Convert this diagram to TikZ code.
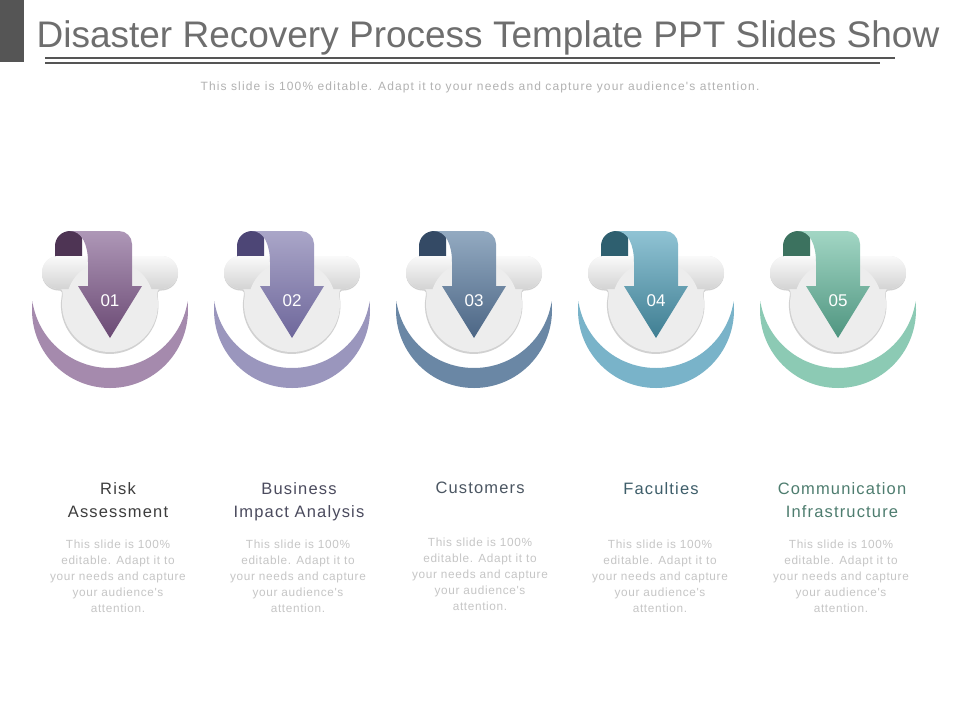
\documentclass[tikz,border=0pt]{standalone}
\usepackage{fontspec}
\setmainfont{Liberation Sans}
\newfontfamily\subfont[LetterSpace=9.5]{Liberation Sans}
\newfontfamily\descfont[LetterSpace=5.5]{Liberation Sans}
\newfontfamily\headfont[LetterSpace=7]{Liberation Sans}
\definecolor{titlegray}{HTML}{6E6E6E}
\definecolor{subgray}{HTML}{B2B2B2}
\definecolor{descgray}{HTML}{C6C6C6}
\definecolor{barbox}{HTML}{555555}
\definecolor{fA}{HTML}{4E3454}\definecolor{tA}{HTML}{AE97B7}\definecolor{bA}{HTML}{6B4A74}\definecolor{cA}{HTML}{A58AAD}\definecolor{hA}{HTML}{3D3D3D}
\definecolor{fB}{HTML}{4D4676}\definecolor{tB}{HTML}{AAA6C8}\definecolor{bB}{HTML}{6E679B}\definecolor{cB}{HTML}{9A96BD}\definecolor{hB}{HTML}{4B4B5E}
\definecolor{fC}{HTML}{344A65}\definecolor{tC}{HTML}{93AAC1}\definecolor{bC}{HTML}{4C6685}\definecolor{cC}{HTML}{6A87A5}\definecolor{hC}{HTML}{4B5662}
\definecolor{fD}{HTML}{2E5F6F}\definecolor{tD}{HTML}{90C3D4}\definecolor{bD}{HTML}{3F7E92}\definecolor{cD}{HTML}{79B3C9}\definecolor{hD}{HTML}{3E5E6A}
\definecolor{fE}{HTML}{3C725F}\definecolor{tE}{HTML}{A2D6C4}\definecolor{bE}{HTML}{4F9580}\definecolor{cE}{HTML}{8CCAB4}\definecolor{hE}{HTML}{4E7D6F}
\tikzset{
  numtext/.style={text=white,font=\fontsize{17}{20}\selectfont,inner sep=0pt},
  headtext/.style={font=\headfont\fontsize{16.5}{23}\selectfont,align=center,inner sep=0pt,anchor=north},
  desctext/.style={text=descgray,font=\descfont\fontsize{11.8}{16}\selectfont,align=center,inner sep=0pt,anchor=north},
}
\newcommand\dricon[7]{%
\begin{scope}[shift={(#1,0)}]
  \begin{scope}
    \clip (-90,301.7) rectangle (90,400);
    \fill[#5,even odd rule] (0,310) circle[radius=78] (0,289.5) circle[radius=78.5];
  \end{scope}
  \fill[#2] (-55,275) -- (-55,246) arc[start angle=180,end angle=270,radius=15] -- (-28,231) -- (-28,275) -- cycle;
  \fill[black!18] (-51.5,257.5) -- (51.5,257.5) arc[start angle=-90,end angle=90,radius=16.5]
     -- (50,290.5) .. controls (47.5,290.5) and (47.8,293) .. (47.8,297)
     arc[start angle=-9.6,end angle=189.6,radius=48.8]
     .. controls (-47.8,293) and (-47.5,290.5) .. (-50,290.5) -- (-51.5,290.5)
     arc[start angle=90,end angle=270,radius=16.5] -- cycle;
  \fill[black!7] (-51.5,256) -- (51.5,256) arc[start angle=-90,end angle=90,radius=16.5]
     -- (50,289) .. controls (47.5,289) and (47.3,292) .. (47.3,296)
     arc[start angle=-9.6,end angle=189.6,radius=48]
     .. controls (-47.3,292) and (-47.5,289) .. (-50,289) -- (-51.5,289)
     arc[start angle=90,end angle=270,radius=16.5] -- cycle;
  \shade[top color=black!2,bottom color=black!17] (-51.5,256) -- (51.5,256) arc[start angle=-90,end angle=90,radius=16.5]
     -- (-51.5,289) arc[start angle=90,end angle=270,radius=16.5] -- cycle;
  \fill[black!7] (0,304) circle[radius=44];
  \shade[top color=#3,bottom color=#4] (-40,231) -- (9,231) arc[start angle=-90,end angle=0,radius=13]
     -- (22,286) -- (32,286) -- (0,338) -- (-32,286) -- (-22,286) -- (-22,262)
     .. controls (-22,245) and (-28,231) .. (-40,231) -- cycle;
  \node[numtext] (#7) at (0,301) {#6};
\end{scope}}
\begin{document}
\begin{tikzpicture}[x=1pt,y=-1pt]
\useasboundingbox (0,0) rectangle (960,720);
\fill[white] (0,0) rectangle (960,720);
\fill[barbox] (0,0) rectangle (24,62);
\draw[barbox,line width=2] (45,57.5) -- (895,57.5);
\draw[barbox,line width=2] (45,62.5) -- (880,62.5);
\node[text=titlegray,font=\fontsize{37}{44}\selectfont,anchor=base,inner sep=0pt] (title) at (488,47) {Disaster Recovery Process Template PPT Slides Show};
\node[text=subgray,font=\subfont\fontsize{12}{14}\selectfont,anchor=base,inner sep=0pt] (subtitle) at (480,90) {This slide is 100\% editable. Adapt it to your needs and capture your audience's attention.};
\dricon{110}{fA}{tA}{bA}{cA}{01}{n1}
\dricon{292}{fB}{tB}{bB}{cB}{02}{n2}
\dricon{474}{fC}{tC}{bC}{cC}{03}{n3}
\dricon{656}{fD}{tD}{bD}{cD}{04}{n4}
\dricon{838}{fE}{tE}{bE}{cE}{05}{n5}
\node[headtext,text=hA] (h1) at (118,482) {Risk\\Assessment};
\node[headtext,text=hB] (h2) at (299,482) {Business\\Impact Analysis};
\node[headtext,text=hC] (h3) at (480,482) {Customers};
\node[headtext,text=hD] (h4) at (661,482) {Faculties};
\node[headtext,text=hE] (h5) at (842,482) {Communication\\Infrastructure};
\node[desctext] (d1) at (118,540) {This slide is 100\%\\editable. Adapt it to\\your needs and capture\\your audience's\\attention.};
\node[desctext] (d2) at (298,540) {This slide is 100\%\\editable. Adapt it to\\your needs and capture\\your audience's\\attention.};
\node[desctext] (d3) at (480,538) {This slide is 100\%\\editable. Adapt it to\\your needs and capture\\your audience's\\attention.};
\node[desctext] (d4) at (660,540) {This slide is 100\%\\editable. Adapt it to\\your needs and capture\\your audience's\\attention.};
\node[desctext] (d5) at (841,540) {This slide is 100\%\\editable. Adapt it to\\your needs and capture\\your audience's\\attention.};
\end{tikzpicture}
\end{document}
